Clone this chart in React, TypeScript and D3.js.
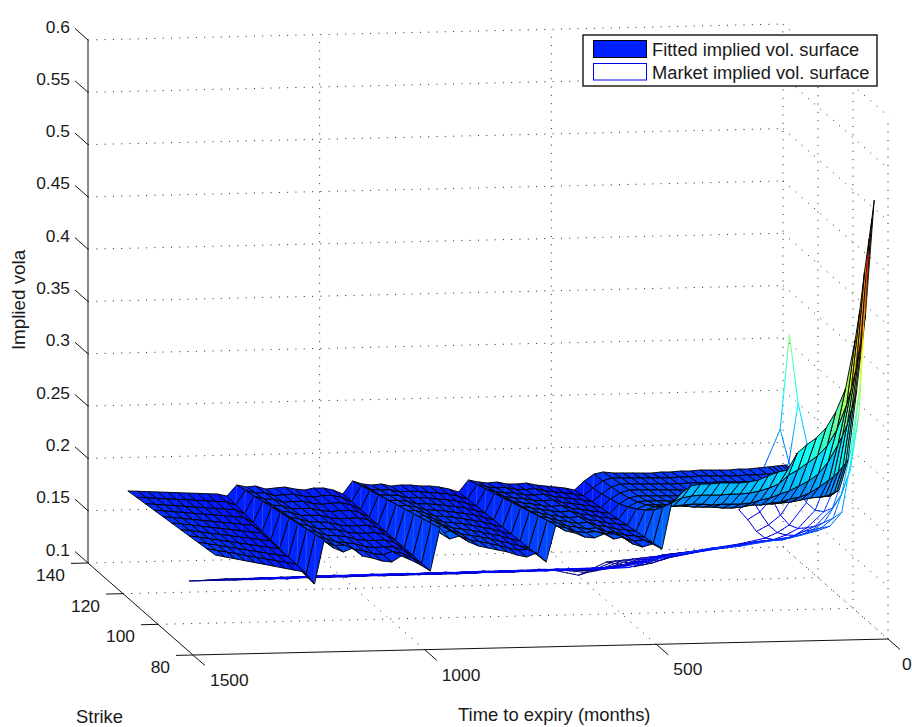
import React from "react";
import * as d3 from "d3";

// ---------- axis ticks ----------
const volTicks = [0.1, 0.15, 0.2, 0.25, 0.3, 0.35, 0.4, 0.45, 0.5, 0.55, 0.6];
const volLabels = ["0.1", "0.15", "0.2", "0.25", "0.3", "0.35", "0.4", "0.45", "0.5", "0.55", "0.6"];
const strikeTicks = [140, 120, 100, 80];
const timeTicks = [1500, 1000, 500, 0];

// ---------- fitted surface ----------
const fittedStrikes = [140, 135, 130, 125, 120, 115, 110, 105, 100, 95, 90];

const plate1Times = [1414, 1393, 1371, 1350, 1328, 1307, 1286, 1264, 1243, 1221, 1200];
const plate1Vols = [
  [.1680,.1692,.1704,.1716,.1728,.1740,.1752,.1764,.1776,.1788,.1800],
  [.1675,.1686,.1696,.1707,.1717,.1728,.1738,.1749,.1759,.1770,.1780],
  [.1669,.1678,.1687,.1696,.1705,.1715,.1724,.1733,.1742,.1751,.1760],
  [.1664,.1672,.1679,.1687,.1694,.1702,.1709,.1717,.1724,.1732,.1739],
  [.1658,.1664,.1670,.1676,.1682,.1689,.1695,.1701,.1707,.1713,.1719],
  [.1653,.1658,.1662,.1667,.1671,.1676,.1681,.1685,.1690,.1694,.1699],
  [.1647,.1650,.1653,.1657,.1660,.1663,.1666,.1669,.1673,.1676,.1679],
  [.1642,.1644,.1645,.1647,.1648,.1650,.1652,.1653,.1655,.1656,.1658],
  [.1636,.1636,.1636,.1637,.1637,.1637,.1637,.1637,.1638,.1638,.1638],
  [.1631,.1630,.1628,.1627,.1626,.1625,.1623,.1622,.1621,.1619,.1618],
  [.1610,.1599,.1588,.1577,.1566,.1556,.1545,.1534,.1523,.1512,.1501],
];

const plate2Times = [1179, 1158, 1138, 1117, 1096, 1075, 1054, 1033, 1013, 992, 971, 950];
const plate2Vols = [
  [.1713,.1734,.1754,.1775,.1796,.1817,.1837,.1858,.1879,.1899,.1920],
  [.1692,.1707,.1722,.1737,.1752,.1767,.1781,.1796,.1811,.1826,.1841],
  [.1699,.1709,.1719,.1730,.1740,.1750,.1760,.1770,.1781,.1791,.1801],
  [.1668,.1678,.1688,.1698,.1708,.1718,.1728,.1738,.1750,.1790,.1837],
  [.1676,.1684,.1692,.1700,.1708,.1716,.1724,.1732,.1740,.1749,.1758],
  [.1683,.1688,.1694,.1699,.1705,.1710,.1715,.1721,.1726,.1732,.1737],
  [.1662,.1666,.1671,.1675,.1679,.1684,.1688,.1693,.1697,.1702,.1706],
  [.1650,.1655,.1659,.1664,.1668,.1673,.1677,.1682,.1686,.1691,.1695],
  [.1667,.1668,.1669,.1670,.1671,.1672,.1674,.1678,.1690,.1720,.1750],
  [.1665,.1667,.1669,.1671,.1673,.1675,.1678,.1682,.1688,.1699,.1710],
  [.1644,.1646,.1648,.1649,.1651,.1652,.1654,.1655,.1657,.1658,.1660],
  [.1604,.1604,.1603,.1603,.1602,.1602,.1602,.1601,.1601,.1600,.1600],
];

const plate3Times = [929, 908, 888, 867, 846, 825, 804, 783, 763, 742, 721, 700];
const plate3Vols = [
  [.1726,.1754,.1783,.1811,.1839,.1868,.1896,.1924,.1952,.1981,.2009],
  [.1695,.1716,.1736,.1757,.1778,.1799,.1819,.1840,.1861,.1881,.1902],
  [.1683,.1707,.1732,.1756,.1781,.1806,.1830,.1855,.1879,.1904,.1928],
  [.1691,.1709,.1727,.1744,.1762,.1780,.1798,.1816,.1833,.1851,.1869],
  [.1669,.1685,.1701,.1717,.1733,.1749,.1765,.1781,.1797,.1813,.1829],
  [.1677,.1690,.1703,.1716,.1729,.1742,.1755,.1768,.1781,.1794,.1807],
  [.1675,.1686,.1697,.1708,.1719,.1731,.1742,.1753,.1764,.1775,.1786],
  [.1663,.1673,.1683,.1694,.1704,.1714,.1724,.1734,.1745,.1755,.1765],
  [.1661,.1668,.1676,.1683,.1690,.1698,.1705,.1712,.1719,.1727,.1734],
  [.1649,.1655,.1662,.1668,.1675,.1681,.1687,.1694,.1700,.1707,.1713],
  [.1628,.1633,.1638,.1643,.1648,.1653,.1658,.1664,.1672,.1710,.1749],
  [.1597,.1603,.1610,.1616,.1623,.1629,.1635,.1642,.1648,.1655,.1661],
];

const plate4Times = [679, 658, 638, 617, 596, 575, 554, 533, 513, 492, 471, 450];
const plate4Vols = [
  [.1710,.1740,.1770,.1801,.1831,.1861,.1891,.1921,.1952,.1982,.2012],
  [.1689,.1715,.1742,.1768,.1795,.1821,.1847,.1874,.1900,.1927,.1953],
  [.1677,.1703,.1728,.1754,.1779,.1805,.1830,.1856,.1881,.1907,.1932],
  [.1684,.1705,.1725,.1746,.1767,.1788,.1808,.1829,.1850,.1870,.1891],
  [.1663,.1685,.1706,.1728,.1750,.1772,.1793,.1815,.1837,.1858,.1880],
  [.1661,.1680,.1700,.1719,.1739,.1758,.1778,.1797,.1817,.1866,.1916],
  [.1668,.1688,.1708,.1727,.1747,.1767,.1787,.1807,.1826,.1846,.1866],
  [.1647,.1665,.1683,.1700,.1718,.1736,.1754,.1772,.1790,.1836,.1883],
  [.1635,.1653,.1671,.1689,.1707,.1725,.1742,.1760,.1778,.1796,.1814],
  [.1624,.1640,.1656,.1672,.1688,.1704,.1719,.1735,.1751,.1767,.1783],
  [.1612,.1628,.1644,.1660,.1675,.1691,.1707,.1723,.1739,.1774,.1809],
  [.1591,.1608,.1625,.1642,.1659,.1676,.1692,.1709,.1726,.1743,.1760],
];

const plate5Times = [429, 408, 388, 367, 346, 325, 304, 283, 263, 242, 221, 200, 179, 158, 138, 117, 96, 75, 54, 33, 23, 13, 3, -3, -8];
const plate5Vols = [
  [.1675,.1681,.1697,.1722,.1748,.1793,.1847,.1910,.1984,.2086,.2197],
  [.1739,.1746,.1762,.1778,.1803,.1838,.1883,.1937,.2010,.2131,.2291],
  [.1757,.1773,.1788,.1804,.1820,.1846,.1881,.1935,.2018,.2168,.2355],
  [.1745,.1770,.1786,.1802,.1818,.1844,.1879,.1942,.2025,.2185,.2372],
  [.1743,.1768,.1784,.1800,.1816,.1841,.1886,.1940,.2033,.2192,.2370],
  [.1741,.1766,.1782,.1798,.1814,.1839,.1874,.1929,.2030,.2190,.2378],
  [.1738,.1764,.1780,.1796,.1812,.1828,.1872,.1926,.2019,.2188,.2376],
  [.1736,.1762,.1778,.1794,.1809,.1825,.1861,.1924,.2026,.2195,.2373],
  [.1744,.1760,.1776,.1792,.1807,.1823,.1859,.1913,.2024,.2193,.2381],
  [.1742,.1767,.1783,.1790,.1805,.1821,.1856,.1911,.2022,.2201,.2398],
  [.1749,.1765,.1781,.1787,.1803,.1819,.1845,.1918,.2029,.2217,.2434],
  [.1747,.1772,.1779,.1785,.1801,.1827,.1862,.1935,.2056,.2244,.2470],
  [.1754,.1770,.1786,.1793,.1808,.1834,.1869,.1933,.2073,.2280,.2487],
  [.1752,.1768,.1784,.1790,.1806,.1832,.1867,.1950,.2109,.2364,.2648],
  [.1750,.1766,.1782,.1788,.1804,.1830,.1865,.1957,.2136,.2410,.2722],
  [.1748,.1764,.1780,.1796,.1812,.1837,.1872,.1984,.2181,.2475,.2787],
  [.1755,.1771,.1787,.1803,.1819,.1845,.1880,.2001,.2227,.2539,.2880],
  [.1753,.1769,.1785,.1801,.1817,.1842,.1897,.2037,.2292,.2633,.3031],
  [.1761,.1777,.1793,.1809,.1824,.1850,.1914,.2092,.2404,.2784,.3249],
  [.1768,.1784,.1790,.1806,.1832,.1848,.1921,.2157,.2565,.3021,.3715],
  [.1772,.1783,.1789,.1805,.1831,.1847,.1929,.2190,.2650,.3170,.4000],
  [.1776,.1782,.1788,.1804,.1830,.1846,.1938,.2231,.2754,.3353,.4363],
  [.1780,.1785,.1787,.1803,.1829,.1850,.1960,.2285,.2910,.3600,.4680],
  [.1782,.1787,.1787,.1802,.1828,.1852,.1972,.2315,.3000,.3740,.4870],
  [.1783,.1789,.1786,.1802,.1828,.1853,.1984,.2344,.3086,.3877,.5049],
];

// ---------- market surface (null = no market quote) ----------
const marketStrikes = [135, 130, 125, 120, 115, 110, 105, 100, 95, 90];
const marketTimes = [5, 25, 62, 88, 114, 170, 220, 280, 340, 400, 460, 520, 580, 640, 700, 760, 820, 880, 940, 1000, 1060, 1120, 1180, 1240, 1300];
const marketVols: (number | null)[][] = [
  [.310,.252,.221,.203,.194,.198,.215,.251,.316,.452],
  [.220,.196,.177,.172,.172,.178,.189,.209,.240,.300],
  [.182,.162,.153,.151,.155,.163,.172,.183,.194,.207],
  [.156,.149,.144,.144,.149,.156,.167,.176,.185,.194],
  [.144,.142,.138,.139,.145,.152,.162,.171,.181,.190],
  [null,null,null,.134,.142,.151,.159,.167,.175,.184],
  [.105,.113,.122,.131,.139,.147,.155,.165,.173,.181],
  [.1025,.1108,.1191,.1274,.1357,.1440,.1522,.1605,.1688,.1771],
  [.092,.101,.110,.120,.130,.139,.148,.157,.167,.176],
  [.0971,.1054,.1136,.1219,.1302,.1385,.1468,.1551,.1633,.1716],
  [.085,.095,.104,.113,.121,.131,.140,.149,.157,.167],
  [.091,.098,.105,.114,.121,.128,.137,.144,.152,.159],
  [.0908,.0978,.1058,.1128,.1212,.1282,.1366,.1432,.1516,.1582],
  [.0894,.0984,.1044,.1136,.1198,.1292,.1352,.1442,.1502,.1592],
  [.0901,.0971,.1051,.1121,.1205,.1275,.1359,.1425,.1509,.1575],
  [.0890,.0980,.1040,.1132,.1194,.1288,.1348,.1438,.1498,.1588],
  [.0899,.0969,.1049,.1119,.1203,.1273,.1357,.1423,.1507,.1573],
  [.0887,.0977,.1037,.1129,.1191,.1285,.1345,.1435,.1495,.1585],
  [.0897,.0967,.1047,.1117,.1201,.1271,.1355,.1421,.1505,.1571],
  [.0885,.0975,.1035,.1127,.1189,.1283,.1343,.1433,.1493,.1583],
  [.0895,.0965,.1045,.1115,.1199,.1269,.1353,.1419,.1503,.1569],
  [.0883,.0973,.1033,.1125,.1187,.1281,.1341,.1431,.1491,.1581],
  [.0892,.0962,.1042,.1112,.1196,.1266,.1350,.1416,.1500,.1566],
  [.0881,.0969,.1029,.1119,.1181,.1273,.1333,.1421,.1481,.1569],
  [.0881,.0957,.1034,.1110,.1187,.1263,.1340,.1416,.1493,.1570],
];

// ---------- projection ----------
const originX = 88;
const originY = 563;
const xOfT = d3.scaleLinear().domain([1500, 0]).range([0, 695]);
const yOfT = d3.scaleLinear().domain([1500, 0]).range([0, -16]);
const xOfS = d3.scaleLinear().domain([140, 80]).range([0, 105]);
const yOfS = d3.scaleLinear().domain([140, 80]).range([0, 92]);
const yOfV = d3.scaleLinear().domain([0.1, 0.6]).range([0, -523]);
type P = [number, number];
const proj = (t: number, s: number, v: number): P => [
  originX + xOfT(t) + xOfS(s),
  originY + yOfT(t) + yOfS(s) + yOfV(v),
];
const floorDepth = (t: number, s: number) => yOfT(t) + yOfS(s);

// MATLAB jet colormap over the surface's colour limits
const cNorm = d3.scaleLinear().domain([0.105, 0.505]).range([0, 1]).clamp(true);
const jet = (v: number) => {
  const t = cNorm(v);
  const ch = (d: number) => Math.max(0, Math.min(1, 1.5 - Math.abs(4 * t - d)));
  return d3.rgb(ch(3) * 255, ch(2) * 255, ch(1) * 255).formatRgb();
};

const fittedTimes = [...plate1Times, ...plate2Times, ...plate3Times, ...plate4Times, ...plate5Times];
const fittedVols = [...plate1Vols, ...plate2Vols, ...plate3Vols, ...plate4Vols, ...plate5Vols];

const poly = d3.line<P>();

function buildQuads() {
  const quads: { d: string; fill: string; depth: number; diag: string; glint: number }[] = [];
  for (let c = 0; c < fittedTimes.length - 1; c++) {
    for (let k = 0; k < fittedStrikes.length - 1; k++) {
      const t0 = fittedTimes[c], t1 = fittedTimes[c + 1];
      const s0 = fittedStrikes[k], s1 = fittedStrikes[k + 1];
      const a = proj(t0, s0, fittedVols[c][k]);
      const b = proj(t1, s0, fittedVols[c + 1][k]);
      const e = proj(t1, s1, fittedVols[c + 1][k + 1]);
      const f = proj(t0, s1, fittedVols[c][k + 1]);
      const mean = d3.mean([fittedVols[c][k], fittedVols[c + 1][k], fittedVols[c + 1][k + 1], fittedVols[c][k + 1]]) as number;
      const len = Math.hypot(f[0] - b[0], f[1] - b[1]);
      quads.push({
        d: poly([a, b, e, f])! + "Z",
        fill: jet(mean),
        depth: floorDepth((t0 + t1) / 2, (s0 + s1) / 2),
        diag: poly([f, b])!,
        glint: len > 12 ? 0.25 : 0.1,
      });
    }
  }
  return d3.sort(quads, (q) => q.depth);
}

function buildMarketSegments() {
  const under: { d: string; stroke: string }[] = [];
  const over: { d: string; stroke: string }[] = [];
  const add = (out: typeof under, t0: number, s0: number, v0: number | null, t1: number, s1: number, v1: number | null) => {
    if (v0 === null || v1 === null) return;
    const a = proj(t0, s0, v0);
    const b = proj(t1, s1, v1);
    const n = Math.max(1, Math.ceil(Math.hypot(b[0] - a[0], b[1] - a[1]) / 6));
    const at = (u: number): P => [a[0] + (b[0] - a[0]) * u, a[1] + (b[1] - a[1]) * u];
    const vv = d3.interpolateNumber(v0, v1);
    for (let i = 0; i < n; i++) {
      out.push({ d: poly([at(i / n), at((i + 1) / n)])!, stroke: jet(vv((i + 0.5) / n)) });
    }
  };
  marketTimes.forEach((t, c) => {
    marketStrikes.forEach((s, k) => {
      const v = marketVols[c][k];
      // the high right-hand wing of the shortest expiry shows in front of the fitted surface
      const front = c === 0 && k >= 7;
      if (k + 1 < marketStrikes.length) add(front ? over : under, t, s, v, t, marketStrikes[k + 1], marketVols[c][k + 1]);
      if (c + 1 < marketTimes.length) add(under, t, s, v, marketTimes[c + 1], s, marketVols[c + 1][k]);
    });
  });
  return { under, over };
}

const FONT = "'Liberation Sans', Arial, Helvetica, sans-serif";
const tickSize = 17.4;
const gridDash = "1 7.3";

function Seg({ a, b, dash, w = 1, color = "#222" }: { a: P; b: P; dash?: string; w?: number; color?: string }) {
  return <line x1={a[0]} y1={a[1]} x2={b[0]} y2={b[1]} stroke={color} strokeWidth={w} strokeDasharray={dash} />;
}

export default function App() {
  const quads = buildQuads();
  const market = buildMarketSegments();
  const vLow = 0.1, vHigh = 0.6;
  const sBack = 140, sFront = 80, tFar = 1500, tNear = 0;

  return (
    <svg width={912} height={727} viewBox="0 0 912 727" style={{ position: "absolute", left: 0, top: 0, background: "#fff" }} fontFamily={FONT}>
      {/* grid: back wall, side wall, floor */}
      <g>
        {volTicks.map((v) => (
          <g key={v}>
            <Seg a={proj(tFar, sBack, v)} b={proj(tNear, sBack, v)} dash={gridDash} />
            <Seg a={proj(tNear, sBack, v)} b={proj(tNear, sFront, v)} dash={gridDash} />
          </g>
        ))}
        {timeTicks.slice(1).map((t) => (
          <g key={t}>
            <Seg a={proj(t, sBack, vLow)} b={proj(t, sBack, vHigh)} dash={gridDash} />
            <Seg a={proj(t, sFront, vLow)} b={proj(t, sBack, vLow)} dash={gridDash} />
          </g>
        ))}
        {strikeTicks.slice(1).map((s) => (
          <g key={s}>
            <Seg a={proj(tNear, s, vLow)} b={proj(tNear, s, vHigh)} dash={gridDash} />
          </g>
        ))}
        {strikeTicks.slice(1, 3).map((s) => (
          <Seg key={s} a={proj(tFar, s, vLow)} b={proj(tNear, s, vLow)} dash={gridDash} />
        ))}
      </g>

      {/* axes */}
      <g>
        <Seg a={proj(tFar, sBack, vLow)} b={proj(tFar, sBack, vHigh)} color="#111" />
        <Seg a={proj(tFar, sBack, vLow)} b={proj(tFar, sFront, vLow)} color="#111" />
        <Seg a={proj(tFar, sFront, vLow)} b={proj(tNear, sFront, vLow)} color="#111" />
        {volTicks.map((v) => {
          const p = proj(tFar, sBack, v);
          return <Seg key={v} a={p} b={[p[0] - 13, p[1] - 11.5]} color="#111" />;
        })}
        {strikeTicks.map((s) => {
          const p = proj(tFar, s, vLow);
          return <Seg key={s} a={p} b={[p[0] - 17, p[1] + 0.4]} color="#111" />;
        })}
        {timeTicks.map((t) => {
          const p = proj(t, sFront, vLow);
          return <Seg key={t} a={p} b={[p[0] + 12, p[1] + 10.5]} color="#111" />;
        })}
      </g>

      {/* market surface: coloured wire mesh */}
      <g fill="none" strokeWidth={1}>
        {market.under.map((m, i) => (
          <path key={i} d={m.d} stroke={m.stroke} strokeLinecap="round" />
        ))}
      </g>

      {/* fitted surface */}
      <g>
        {quads.map((q, i) => (
          <g key={i}>
            <path d={q.d} fill={q.fill} stroke="#000" strokeWidth={0.95} strokeLinejoin="round" />
            <path d={q.diag} fill="none" stroke="#fff" strokeOpacity={q.glint} strokeWidth={0.6} />
          </g>
        ))}
      </g>

      <g fill="none" strokeWidth={1}>
        {market.over.map((m, i) => (
          <path key={i} d={m.d} stroke={m.stroke} strokeLinecap="round" />
        ))}
      </g>

      {/* tick labels */}
      <g fontSize={tickSize} fill="#1a1a1a">
        {volTicks.map((v, i) => {
          const p = proj(tFar, sBack, v);
          return (
            <text key={v} x={70} y={p[1] - 7.5} textAnchor="end">
              {volLabels[i]}
            </text>
          );
        })}
        {strikeTicks.map((s) => {
          const p = proj(tFar, s, vLow);
          return (
            <text key={s} x={p[0] - 23} y={p[1] + 18} textAnchor="end">
              {s}
            </text>
          );
        })}
        {timeTicks.map((t) => {
          const p = proj(t, sFront, vLow);
          return (
            <text key={t} x={p[0] + (t === 0 ? 14 : 17)} y={p[1] + 31} textAnchor="start">
              {t}
            </text>
          );
        })}
      </g>

      {/* axis titles */}
      <g fontSize={18.4} fill="#1a1a1a">
        <text x={76} y={723}>Strike</text>
        <text x={458} y={721}>Time to expiry (months)</text>
        <text transform="translate(25,300) rotate(-90)" textAnchor="middle" fontSize={18.8}>Implied vola</text>
      </g>

      {/* legend */}
      <g>
        <rect x={583} y={35} width={294} height={51} fill="#fff" stroke="#111" strokeWidth={1.4} />
        <rect x={593.5} y={40.5} width={53} height={17} fill="rgb(0,32,255)" stroke="#000" />
        <rect x={593.5} y={63.5} width={53} height={16.5} fill="#fff" stroke="rgb(0,0,240)" />
        <text x={652} y={56} fontSize={18.3} fill="#1a1a1a">Fitted implied vol. surface</text>
        <text x={652} y={78.5} fontSize={18.3} fill="#1a1a1a">Market implied vol. surface</text>
      </g>
    </svg>
  );
}
